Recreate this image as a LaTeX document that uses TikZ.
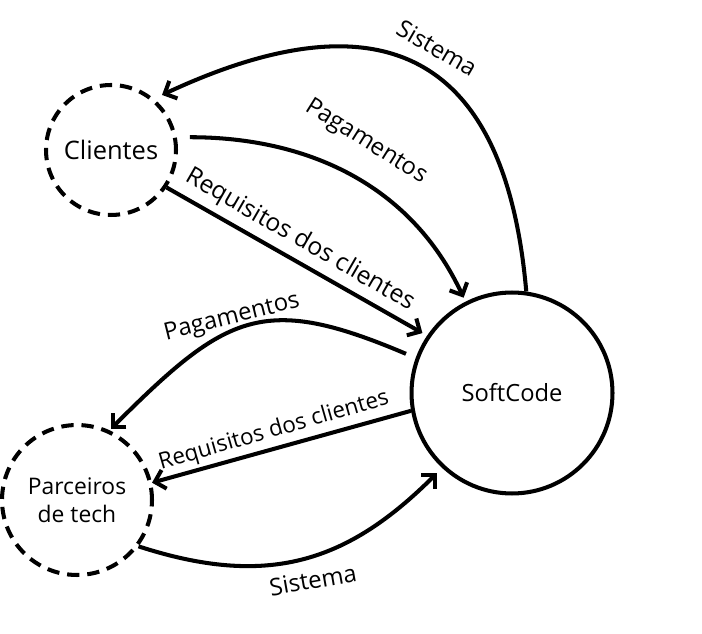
\documentclass[tikz,border=0pt]{standalone}
\usepackage{fontspec}
\setmainfont{Open Sans}
\usetikzlibrary{arrows.meta}

\begin{document}
\begin{tikzpicture}[x=0.02cm, y=-0.02cm, line width=2.3pt,
    ent/.style={circle, draw, dash pattern=on 7pt off 4.5pt, align=center, font=\fontsize{13.5}{16}\selectfont},
    proc/.style={circle, draw, font=\fontsize{13.5}{16}\selectfont},
    lbl/.style={font=\fontsize{13.6}{15}\selectfont, inner sep=0pt},
    flow/.style={-{Straight Barb[length=5.5pt,width=11pt]}}]

        \useasboundingbox (0,0) rectangle (702,634);

        \node[ent, minimum size=2.6cm, font=\fontsize{14.5}{16}\selectfont] (cli) at (111,150) {Clientes};
        \node[ent, minimum size=3cm, font=\fontsize{13}{16}\selectfont] (parc) at (77,500) {Parceiros\\de tech};
        \node[proc, minimum size=4.02cm] (soft) at (512,393) {SoftCode};

        \draw[flow, shorten >=5pt] (soft.82) to[out=95, in=25, looseness=1.5] (cli.50);
        \draw[flow, shorten <=7.5pt, shorten >=2.5pt] (cli.11) to[out=0, in=115] (soft.117);
        \draw[flow, shorten >=3pt] (cli.-34) -- (soft.146);
        \draw[flow, shorten <=6pt, shorten >=1pt] (soft.160) to[out=157, in=45, looseness=1.35] (parc.65);
        \draw[flow] (soft.190) -- (parc.13);
        \draw[flow, shorten >=4pt] (parc.-37) to[out=-18, in=225, looseness=1.1] (soft.-133);

        \node[lbl, rotate=-30] (lsisa) at (437,48) {Sistema};
        \node[lbl, rotate=-32] (lpaga) at (366,142) {Pagamentos};
        \node[lbl, rotate=-30, font=\fontsize{14}{15}\selectfont] (lreqa) at (300,240) {Requisitos dos clientes};
        \node[lbl, rotate=14] (lpagb) at (232,318) {Pagamentos};
        \node[lbl, rotate=16, font=\fontsize{12.8}{15}\selectfont] (lreqb) at (274,431) {Requisitos dos clientes};
        \node[lbl, rotate=10] (lsisb) at (313,580) {Sistema};

\end{tikzpicture}
\end{document}
